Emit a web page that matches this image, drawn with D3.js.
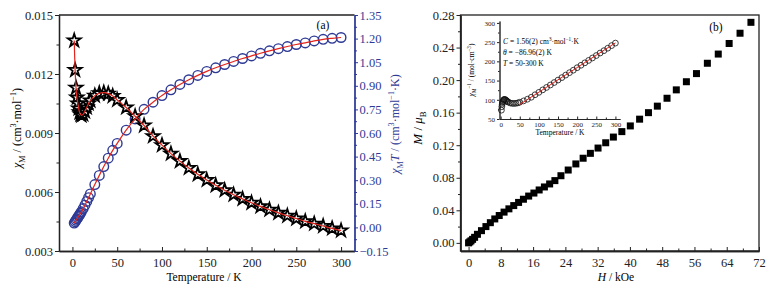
<!DOCTYPE html>
<html>
<head>
<meta charset="utf-8">
<script src="https://cdn.jsdelivr.net/npm/d3@7"></script>
<style>
  body { margin: 0; background: #fff; }
  svg text { font-family: "Liberation Serif", "Times New Roman", serif; }
</style>
</head>
<body>
<svg width="777" height="288"></svg>
<script>
// ---- panel (a) data: susceptibility vs temperature
const temps = [2, 3, 4, 5, 6, 7, 8, 9, 10, 12, 14, 16, 18, 20, 25, 30, 35, 40, 45, 50,
  60, 70, 80, 90, 100, 110, 120, 130, 140, 150, 160, 170, 180, 190, 200,
  210, 220, 230, 240, 250, 260, 270, 280, 290, 300];
const chiM = [0.01370, 0.01220, 0.01130, 0.01080, 0.01050, 0.01025, 0.01005, 0.00995, 0.00990,
  0.00995, 0.01010, 0.01030, 0.01050, 0.01065, 0.01090, 0.01102, 0.01105, 0.01100, 0.01088,
  0.01068, 0.01030, 0.00985, 0.00938, 0.00884, 0.00838, 0.00795, 0.00757, 0.00722, 0.00690,
  0.00661, 0.00634, 0.00609, 0.00586, 0.00565, 0.00545, 0.00527, 0.00510, 0.00494, 0.00479,
  0.00465, 0.00451, 0.00439, 0.00427, 0.00415, 0.00404];
const chiMT = [0.0274, 0.0366, 0.0452, 0.0540, 0.0630, 0.0718, 0.0804, 0.0896, 0.0990,
  0.1194, 0.1414, 0.1648, 0.1890, 0.2130, 0.2725, 0.3306, 0.3868, 0.4400, 0.4896,
  0.5340, 0.6180, 0.6895, 0.7504, 0.7956, 0.8380, 0.8745, 0.9084, 0.9386, 0.9660,
  0.9915, 1.0144, 1.0353, 1.0548, 1.0735, 1.0900, 1.1067, 1.1220, 1.1362, 1.1496,
  1.1625, 1.1726, 1.1853, 1.1956, 1.2020, 1.2070];
const chiTicks = [0.003, 0.006, 0.009, 0.012, 0.015];
const chiTTicks = [-0.15, 0.00, 0.15, 0.30, 0.45, 0.60, 0.75, 0.90, 1.05, 1.20, 1.35];
const tempTicks = [0, 50, 100, 150, 200, 250, 300];

// ---- inset data: inverse susceptibility
const invChi = [73.0, 82.0, 88.5, 92.6, 95.2, 97.6, 99.5, 100.5, 101.0, 100.5, 99.0, 97.1,
  95.2, 93.9, 91.7, 90.7, 90.5, 90.9, 91.9, 93.6, 97.1, 101.5, 106.6, 113.1, 119.3, 125.8,
  132.1, 138.5, 144.9, 151.3, 157.7, 164.2, 170.6, 177.0, 183.5, 189.8, 196.1, 202.4, 208.8,
  215.1, 221.7, 227.8, 234.2, 241.0, 247.5];
const fitTemps = [50, 300];
const fitInvChi = [87.8, 248.1];
const insetYTicks = [50, 100, 150, 200, 250, 300];
const insetXTicks = [0, 50, 100, 150, 200, 250, 300];

// ---- panel (b) data: magnetisation vs field
const fieldH = [0, 0.3, 0.6, 1.0, 1.5, 2.2, 3.2, 4.3, 5.4, 6.5, 7.6, 8.8, 10.0, 11.2, 12.4,
  13.6, 14.9, 16.2, 17.5, 18.8, 20.1, 21.4, 22.9, 24.7, 26.6, 28.4, 30.2, 32.1, 34.0, 35.9,
  38.0, 40.1, 42.4, 44.6, 46.8, 49.2, 51.5, 54.0, 56.5, 59.2, 61.9, 64.6, 67.3, 70.0];
const magM = [0.0000, 0.0012, 0.0025, 0.0043, 0.0068, 0.0105, 0.0150, 0.0200, 0.0248, 0.0294,
  0.0336, 0.0378, 0.0418, 0.0458, 0.0497, 0.0536, 0.0575, 0.0612, 0.0650, 0.0687, 0.0724,
  0.0765, 0.0825, 0.0895, 0.0970, 0.1040, 0.1100, 0.1165, 0.1230, 0.1300, 0.1367, 0.1437,
  0.1520, 0.1600, 0.1680, 0.1777, 0.1880, 0.1980, 0.2080, 0.2207, 0.2320, 0.2450, 0.2576, 0.2710];
const magTicks = [0.00, 0.04, 0.08, 0.12, 0.16, 0.20, 0.24, 0.28];
const fieldTicks = [0, 8, 16, 24, 32, 40, 48, 56, 64, 72];

const blue = "#2e3a96";
const red = "#e3241c";
const svg = d3.select("svg");

// text with italic / sub / sup pieces
const rich = (sel, parts, fs) => {
  let cur = 0;
  parts.forEach(([s, kind]) => {
    const target = kind === "sub" ? fs * 0.3 : kind === "sup" ? -fs * 0.4 : 0;
    const t = sel.append("tspan").attr("dy", target - cur).text(s);
    cur = target;
    if (kind === "sub" || kind === "sup") t.attr("font-size", fs * 0.68);
    if (kind === "i") t.attr("font-style", "italic");
  });
};

const styleAxis = (g, color, fs, lw) => {
  g.select(".domain").attr("stroke", color).attr("stroke-width", lw || 1.3);
  g.selectAll(".tick line").attr("stroke", color).attr("stroke-width", 1);
  g.selectAll(".tick text").attr("fill", color).attr("font-size", fs)
    .attr("font-family", "Liberation Serif, serif");
};

const minorVals = (lo, hi, step) => d3.range(Math.round((hi - lo) / step) + 1).map(i => lo + i * step);

// ================= panel (a)
const xA = d3.scaleLinear().domain([-15, 315]).range([59, 354.5]);
const yA = d3.scaleLinear().domain([0.003, 0.015]).range([251, 15]);
const yA2 = d3.scaleLinear().domain([-0.15, 1.35]).range([251, 15]);

svg.append("line").attr("x1", 59).attr("x2", 354.5).attr("y1", 15).attr("y2", 15)
  .attr("stroke", "#222").attr("stroke-width", 1.3);

// minor ticks
svg.append("g").attr("transform", "translate(0,251)")
  .call(d3.axisBottom(xA).tickValues(minorVals(25, 275, 50)).tickSizeInner(-2.5).tickSizeOuter(0).tickFormat(""))
  .call(g => styleAxis(g, "#222", 12));
svg.append("g").attr("transform", "translate(59,0)")
  .call(d3.axisLeft(yA).tickValues(minorVals(0.0045, 0.0135, 0.003)).tickSizeInner(2.5).tickSizeOuter(0).tickFormat(""))
  .call(g => styleAxis(g, "#222", 12));
svg.append("g").attr("transform", "translate(354.5,0)")
  .call(d3.axisRight(yA2).tickValues(minorVals(-0.075, 1.275, 0.15)).tickSizeInner(2.5).tickSizeOuter(0).tickFormat(""))
  .call(g => styleAxis(g, blue, 12));

svg.append("g").attr("transform", "translate(0,251)")
  .call(d3.axisBottom(xA).tickValues(tempTicks).tickSizeInner(-4).tickSizeOuter(0).tickPadding(7))
  .call(g => styleAxis(g, "#222", 12.5));
svg.append("g").attr("transform", "translate(59,0)")
  .call(d3.axisLeft(yA).tickValues(chiTicks).tickSizeInner(4).tickSizeOuter(0).tickPadding(2).tickFormat(d3.format(".3f")))
  .call(g => styleAxis(g, "#222", 12.5));
svg.append("g").attr("transform", "translate(354.5,0)")
  .call(d3.axisRight(yA2).tickValues(chiTTicks).tickSizeInner(3.5).tickSizeOuter(0).tickPadding(1.5).tickFormat(d3.format(".2f")))
  .call(g => styleAxis(g, blue, 12.5));

const ptsA = temps.map((t, i) => ({ t, chi: chiM[i], chiT: chiMT[i] }));

svg.append("g").selectAll("circle").data(ptsA).enter().append("circle")
  .attr("cx", d => xA(d.t)).attr("cy", d => yA2(d.chiT)).attr("r", 4.8)
  .attr("fill", "none").attr("stroke", blue).attr("stroke-width", 1.4);

const star = d3.symbol().type(d3.symbolStar).size(52);
svg.append("g").selectAll("path").data(ptsA).enter().append("path")
  .attr("transform", d => `translate(${xA(d.t)},${yA(d.chi)})`)
  .attr("d", star).attr("fill", "#fff").attr("stroke", "#000").attr("stroke-width", 1.8);

svg.append("path").datum(ptsA)
  .attr("d", d3.line().x(d => xA(d.t)).y(d => yA2(d.chiT)).curve(d3.curveCatmullRom))
  .attr("fill", "none").attr("stroke", red).attr("stroke-width", 1.2);
svg.append("path").datum(ptsA)
  .attr("d", d3.line().x(d => xA(d.t)).y(d => yA(d.chi)).curve(d3.curveCatmullRom))
  .attr("fill", "none").attr("stroke", red).attr("stroke-width", 1.2);

svg.append("text").attr("x", 204).attr("y", 281).attr("text-anchor", "middle")
  .attr("font-size", 11.5).text("Temperature / K");
rich(svg.append("text").attr("transform", "translate(21,128) rotate(-90)")
  .attr("text-anchor", "middle").attr("font-size", 12),
  [["χ", "i"], ["M", "sub"], [" / (cm", "n"], ["3", "sup"], ["·mol", "n"], ["−1", "sup"], [")", "n"]], 12);
rich(svg.append("text").attr("transform", "translate(399,124) rotate(-90)")
  .attr("text-anchor", "middle").attr("font-size", 12).attr("fill", blue),
  [["χ", "i"], ["M", "sub"], ["T", "i"], [" / (cm", "n"], ["3", "sup"], ["·mol", "n"], ["−1", "sup"], ["·K)", "n"]], 12);
svg.append("text").attr("x", 323).attr("y", 29).attr("text-anchor", "middle")
  .attr("font-size", 11.5).text("(a)");

// ================= panel (b)
const xB = d3.scaleLinear().domain([-2, 72]).range([460.5, 759]);
const yB = d3.scaleLinear().domain([-0.01, 0.28]).range([251, 15]);

svg.append("rect").attr("x", 460.5).attr("y", 15).attr("width", 298.5).attr("height", 236)
  .attr("fill", "none").attr("stroke", "#222").attr("stroke-width", 1.3);

svg.append("g").attr("transform", "translate(0,251)")
  .call(d3.axisBottom(xB).tickValues(minorVals(4, 68, 8)).tickSizeInner(-2.5).tickSizeOuter(0).tickFormat(""))
  .call(g => styleAxis(g, "#222", 12));
svg.append("g").attr("transform", "translate(460.5,0)")
  .call(d3.axisLeft(yB).tickValues(minorVals(0.02, 0.26, 0.04)).tickSizeInner(2.5).tickSizeOuter(0).tickFormat(""))
  .call(g => styleAxis(g, "#222", 12));
svg.append("g").attr("transform", "translate(0,251)")
  .call(d3.axisBottom(xB).tickValues(fieldTicks).tickSizeInner(-4).tickSizeOuter(0).tickPadding(7))
  .call(g => styleAxis(g, "#222", 12.5));
svg.append("g").attr("transform", "translate(460.5,0)")
  .call(d3.axisLeft(yB).tickValues(magTicks).tickSizeInner(4).tickSizeOuter(0).tickPadding(2).tickFormat(d3.format(".2f")))
  .call(g => styleAxis(g, "#222", 12.5));

const ptsB = fieldH.map((h, i) => ({ h, m: magM[i] }));
svg.append("g").selectAll("rect").data(ptsB).enter().append("rect")
  .attr("x", d => xB(d.h) - 3.5).attr("y", d => yB(d.m) - 3.5)
  .attr("width", 7).attr("height", 7).attr("fill", "#000");

rich(svg.append("text").attr("x", 616).attr("y", 281).attr("text-anchor", "middle").attr("font-size", 11.5),
  [["H", "i"], [" / kOe", "n"]], 11.5);
rich(svg.append("text").attr("transform", "translate(422,128) rotate(-90)")
  .attr("text-anchor", "middle").attr("font-size", 13),
  [["M", "i"], [" / ", "n"], ["μ", "i"], ["B", "sub"]], 13);
svg.append("text").attr("x", 716).attr("y", 31).attr("text-anchor", "middle")
  .attr("font-size", 11.5).text("(b)");

// ---- inset
const xI = d3.scaleLinear().domain([-3, 312]).range([499.5, 620]);
const yI = d3.scaleLinear().domain([50, 305]).range([119, 21]);

svg.append("g").attr("transform", "translate(0,119)")
  .call(d3.axisBottom(xI).tickValues(minorVals(25, 275, 50)).tickSizeInner(-1.5).tickSizeOuter(0).tickFormat(""))
  .call(g => styleAxis(g, "#222", 7, 0.9));
svg.append("g").attr("transform", "translate(499.5,0)")
  .call(d3.axisLeft(yI).tickValues(minorVals(75, 275, 50)).tickSizeInner(1.5).tickSizeOuter(0).tickFormat(""))
  .call(g => styleAxis(g, "#222", 7, 0.9));
svg.append("g").attr("transform", "translate(0,119)")
  .call(d3.axisBottom(xI).tickValues(insetXTicks).tickSizeInner(-2.5).tickSizeOuter(0).tickPadding(3))
  .call(g => styleAxis(g, "#222", 7, 0.9));
svg.append("g").attr("transform", "translate(499.5,0)")
  .call(d3.axisLeft(yI).tickValues(insetYTicks).tickSizeInner(2.5).tickSizeOuter(0).tickPadding(2))
  .call(g => styleAxis(g, "#222", 7, 0.9));

const ptsI = temps.map((t, i) => ({ t, inv: invChi[i] }));
svg.append("g").selectAll("circle").data(ptsI).enter().append("circle")
  .attr("cx", d => xI(d.t)).attr("cy", d => yI(d.inv)).attr("r", 2.9)
  .attr("fill", "none").attr("stroke", "#111").attr("stroke-width", 0.8);
svg.append("path").datum(fitTemps.map((t, i) => ({ t, inv: fitInvChi[i] })))
  .attr("d", d3.line().x(d => xI(d.t)).y(d => yI(d.inv)))
  .attr("stroke", red).attr("stroke-width", 1).attr("fill", "none");

svg.append("text").attr("x", 560).attr("y", 135).attr("text-anchor", "middle")
  .attr("font-size", 7.5).text("Temperature / K");
rich(svg.append("text").attr("transform", "translate(474,70) rotate(-90)")
  .attr("text-anchor", "middle").attr("font-size", 7.5),
  [["χ", "i"], ["M", "sub"], ["−1", "sup"], [" / (mol·cm", "n"], ["−3", "sup"], [")", "n"]], 7.5);
rich(svg.append("text").attr("x", 503).attr("y", 44).attr("font-size", 7.5),
  [["C", "i"], [" = 1.56(2) cm", "n"], ["3", "sup"], ["·mol", "n"], ["−1", "sup"], ["·K", "n"]], 7.5);
rich(svg.append("text").attr("x", 503).attr("y", 55).attr("font-size", 7.5),
  [["θ", "i"], [" = −86.96(2) K", "n"]], 7.5);
rich(svg.append("text").attr("x", 503).attr("y", 66).attr("font-size", 7.5),
  [["T", "i"], [" = 50-300 K", "n"]], 7.5);
</script>
</body>
</html>
